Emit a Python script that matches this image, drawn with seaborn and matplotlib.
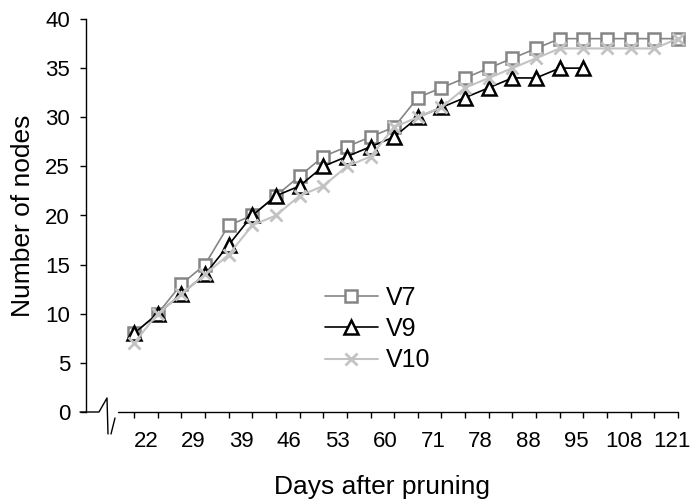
import numpy as np
import pandas as pd
import matplotlib
matplotlib.use("Agg")
import matplotlib.pyplot as plt
import seaborn as sns
from matplotlib.lines import Line2D

# ---- data ----
day_labels = [22, 29, 39, 46, 53, 60, 71, 78, 88, 95, 108, 121]
series_names = ["V7", "V9", "V10"]
v7 = [8, 10, 13, 15, 19, 20, 22, 24, 26, 27, 28, 29, 32, 33, 34, 35, 36, 37, 38, 38, 38, 38, 38, 38]
v9 = [8, 10, 12, 14, 17, 20, 22, 23, 25, 26, 27, 28, 30, 31, 32, 33, 34, 34, 35, 35]
v10 = [7, 10, 12, 14, 16, 19, 20, 22, 23, 25, 26, 29, 30, 31, 33, 34, 35, 36, 37, 37, 37, 37, 37, 38]
y_ticks = [0, 5, 10, 15, 20, 25, 30, 35, 40]

sns.set_theme(style="white")
plt.rcParams['font.family'] = ['Liberation Sans', 'DejaVu Sans']

W, H = 690, 500
fig = plt.figure(figsize=(W / 100, H / 100), dpi=100)
ax_left, ax_right, ax_top, ax_bot = 86, 678, 19, 412
ax = fig.add_axes([ax_left / W, (H - ax_bot) / H, (ax_right - ax_left) / W, (ax_bot - ax_top) / H])

frames = []
for name, vals in zip(series_names, [v7, v9, v10]):
    frames.append(pd.DataFrame({"idx": np.arange(len(vals)), "nodes": vals, "series": name}))
df = pd.concat(frames, ignore_index=True)

styles = {
    "V7": dict(color="#858585", marker="s", markerfacecolor="white", markeredgecolor="#858585",
               markersize=9, markeredgewidth=1.8, linewidth=1.2),
    "V9": dict(color="black", marker="^", markerfacecolor="white", markeredgecolor="black",
               markersize=9.5, markeredgewidth=1.8, linewidth=1.2),
    "V10": dict(color="#c3c3c3", marker="x", markeredgecolor="#c3c3c3",
                markersize=9, markeredgewidth=2.0, linewidth=1.5),
}
for name in series_names:
    sub = df[df["series"] == name]
    sns.lineplot(data=sub, x="idx", y="nodes", ax=ax, label=name, clip_on=False,
                 estimator=None, sort=False, **styles[name])

n_cat = len(v7)
x0 = (134 - ax_left) / ((ax_right - 134) / (n_cat - 1))
ax.set_xlim(-x0, n_cat - 1)
ax.set_ylim(0, 40)

# spines
for s in ["top", "right", "bottom"]:
    ax.spines[s].set_visible(False)
ax.spines["left"].set_color("black")
ax.spines["left"].set_linewidth(1.0)

# y ticks
ax.set_yticks(y_ticks)
ax.set_yticklabels([str(v) for v in y_ticks])
ax.tick_params(axis="y", which="major", direction="out", length=4.5, width=1, color="black",
               left=True, pad=7, labelsize=16, labelcolor="black")

# x ticks: minor at categories, major (label-only) spread across
ax.set_xticks(np.arange(n_cat), minor=True)
label_pos = np.linspace(0.5, n_cat - 1.25, len(day_labels))
ax.set_xticks(label_pos)
ax.set_xticklabels([str(d) for d in day_labels])
ax.tick_params(axis="x", which="minor", direction="out", length=4.5, width=1, color="black", bottom=True)
ax.tick_params(axis="x", which="major", length=0, pad=14, labelsize=16, labelcolor="black")

ax.set_xlabel("Days after pruning", fontsize=19, labelpad=16, color="black")
ax.set_ylabel("Number of nodes", fontsize=19, labelpad=7, color="black")
ax.grid(False)

# broken x-axis line drawn in figure pixels
def fpx(pts):
    xs = [p[0] / W for p in pts]
    ys = [(H - p[1]) / H for p in pts]
    return xs, ys

for pts in ([(80, 412), (99, 412), (107, 398), (108, 434)],
            [(111, 434), (115, 418)],
            [(118, 412), (ax_right, 412)]):
    xs, ys = fpx(pts)
    fig.add_artist(Line2D(xs, ys, color="black", linewidth=1.0, transform=fig.transFigure))

leg = ax.legend(frameon=False, loc="center left",
                bbox_to_anchor=((325 - ax_left) / (ax_right - ax_left), (ax_bot - 329) / (ax_bot - ax_top)),
                borderaxespad=0, borderpad=0, fontsize=18, handlelength=2.1,
                handletextpad=0.32, labelspacing=0.29)
for t in leg.get_texts():
    t.set_color("black")

fig.savefig("out.png", dpi=100)
